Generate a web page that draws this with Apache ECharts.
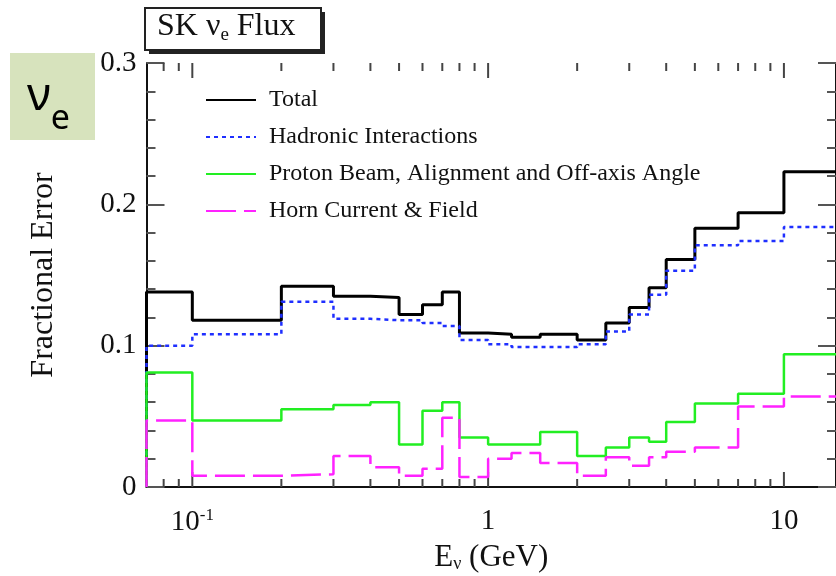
<!DOCTYPE html>
<html>
<head>
<meta charset="utf-8">
<script src="https://cdn.jsdelivr.net/npm/echarts@6/dist/echarts.min.js"></script>
<style>html,body{margin:0;padding:0;background:#fff}#c{width:836px;height:576px}</style>
</head>
<body>
<div id="c"></div>
<script>
// Bin edges in GeV
var binEdges = [0.07, 0.1, 0.2, 0.3, 0.4, 0.5, 0.6, 0.7, 0.8, 1.0, 1.2, 1.5, 2.0, 2.5, 3.0, 3.5, 4.0, 5.0, 7.0, 10, 20];
var totalErr    = [0.138, 0.118, 0.142, 0.135, 0.134, 0.122, 0.129, 0.138, 0.109, 0.108, 0.106, 0.108, 0.104, 0.116, 0.127, 0.141, 0.161, 0.183, 0.194, 0.223];
var hadronicErr = [0.100, 0.108, 0.131, 0.119, 0.118, 0.118, 0.116, 0.114, 0.104, 0.101, 0.099, 0.099, 0.101, 0.110, 0.122, 0.136, 0.153, 0.171, 0.174, 0.184];
var protonErr   = [0.081, 0.047, 0.055, 0.058, 0.060, 0.030, 0.054, 0.060, 0.035, 0.030, 0.030, 0.039, 0.022, 0.028, 0.035, 0.032, 0.046, 0.059, 0.066, 0.094];
var hornErr     = [0.047, 0.008, 0.009, 0.022, 0.014, 0.008, 0.013, 0.049, 0.007, 0.020, 0.024, 0.017, 0.008, 0.021, 0.015, 0.021, 0.025, 0.028, 0.057, 0.064];
var seriesNames = ['Total', 'Hadronic Interactions', 'Proton Beam, Alignment and Off-axis Angle', 'Horn Current & Field'];
// x tick values: [value, major?]
var xTicks = [[0.08,0],[0.09,0],[0.1,1],[0.2,0],[0.3,0],[0.4,0],[0.5,0],[0.6,0],[0.7,0],[0.8,0],[0.9,0],[1,1],
              [2,0],[3,0],[4,0],[5,0],[6,0],[7,0],[8,0],[9,0],[10,1]];
var yTickLabels = {0: '0', 0.1: '0.1', 0.2: '0.2', 0.3: '0.3'};

function stepData(vals) {
  var pts = [[binEdges[0], 0]];
  for (var i = 0; i < vals.length; i++) pts.push([binEdges[i], vals[i]]);
  pts.push([binEdges[vals.length], vals[vals.length - 1]]);
  return pts;
}

var serif = '"Liberation Serif", "Times New Roman", serif';
var chart = echarts.init(document.getElementById('c'));
var axisLineStyle = {color: '#111', width: 2};

chart.setOption({
  animation: false,
  backgroundColor: '#fff',
  grid: {left: 146.5, top: 63, right: 0, bottom: 89, containLabel: false, outerBoundsMode: 'none'},
  xAxis: [{
    type: 'log', logBase: 10, min: 0.07, max: 15,
    axisLine: {show: true, lineStyle: axisLineStyle},
    axisTick: {show: false},
    splitLine: {show: false},
    minorTick: {show: false},
    axisLabel: {
      show: true, showMinLabel: false, showMaxLabel: false, margin: 20,
      fontFamily: serif, fontSize: 29, color: '#111',
      formatter: function (v) {
        if (Math.abs(v - 0.1) < 1e-6) return '{a|10}{b|-1}';
        if (Math.abs(v - 1) < 1e-6) return '{a|1}';
        if (Math.abs(v - 10) < 1e-6) return '{a|10}';
        return '';
      },
      rich: {
        a: {fontFamily: serif, fontSize: 29, color: '#111'},
        b: {fontFamily: serif, fontSize: 17, color: '#111', padding: [0, 0, 14, 0]}
      }
    },
    name: '{n|E}{s|ν}{n| (GeV)}',
    nameLocation: 'middle', nameGap: 52,
    nameTextStyle: {
      rich: {
        n: {fontFamily: serif, fontSize: 31, color: '#111'},
        s: {fontFamily: serif, fontSize: 18, color: '#111', padding: [14, 0, 0, 0]}
      }
    }
  }, {
    type: 'log', logBase: 10, min: 0.07, max: 15, position: 'top',
    axisLine: {show: true, lineStyle: axisLineStyle},
    axisTick: {show: false}, axisLabel: {show: false}, splitLine: {show: false}
  }],
  yAxis: [{
    type: 'value', min: 0, max: 0.3, interval: 0.1,
    axisLine: {show: true, lineStyle: axisLineStyle},
    axisTick: {show: true, inside: true, length: 18, lineStyle: {color: '#555', width: 2}},
    minorTick: {show: true, splitNumber: 5, length: 9, lineStyle: {color: '#555', width: 2}},
    splitLine: {show: false}, minorSplitLine: {show: false},
    axisLabel: {
      margin: 10, fontFamily: serif, fontSize: 29, color: '#111',
      formatter: function (v) { var k = Math.round(v * 10) / 10; return yTickLabels[k] !== undefined ? yTickLabels[k] : ''; }
    },
    name: 'Fractional Error', nameLocation: 'middle', nameGap: 87, nameRotate: 90,
    nameTextStyle: {fontFamily: serif, fontSize: 32, color: '#111'}
  }, {
    type: 'value', min: 0, max: 0.3, interval: 0.1, position: 'right',
    axisLine: {show: true, lineStyle: axisLineStyle},
    axisTick: {show: true, inside: true, length: 18, lineStyle: {color: '#555', width: 2}},
    minorTick: {show: true, splitNumber: 5, length: 9, lineStyle: {color: '#555', width: 2}},
    splitLine: {show: false}, axisLabel: {show: false}
  }],
  legend: {
    orient: 'vertical', left: 205, top: 88, padding: 0,
    itemWidth: 50, itemHeight: 14, itemGap: 13,
    data: seriesNames,
    itemStyle: {opacity: 0},
    textStyle: {fontFamily: serif, fontSize: 24, color: '#111', lineHeight: 24, padding: [0, 0, 0, 8]}
  },
  series: [
    {name: seriesNames[0], type: 'line', step: 'end', symbol: 'none', data: stepData(totalErr),
     lineStyle: {color: '#000', width: 3}, itemStyle: {color: '#000'}},
    {name: seriesNames[1], type: 'line', step: 'end', symbol: 'none', data: stepData(hadronicErr),
     lineStyle: {color: '#1f2fff', width: 2.5, type: [4, 4]}, itemStyle: {color: '#1f2fff'}},
    {name: seriesNames[2], type: 'line', step: 'end', symbol: 'none', data: stepData(protonErr),
     lineStyle: {color: '#22ee22', width: 2.5}, itemStyle: {color: '#22ee22'}},
    {name: seriesNames[3], type: 'line', step: 'end', symbol: 'none', data: stepData(hornErr),
     lineStyle: {color: '#ff22ff', width: 2.5, type: [30, 8]}, itemStyle: {color: '#ff22ff'}},
    {name: 'xticks', type: 'custom', data: xTicks, clip: false, silent: true,
     renderItem: function (params, api) {
       var v = api.value(0), major = api.value(1);
       var b = api.coord([v, 0]), t = api.coord([v, 0.3]);
       var len = major ? 15 : 8;
       var st = {stroke: '#444', lineWidth: 2};
       return {type: 'group', children: [
         {type: 'line', shape: {x1: b[0], y1: b[1], x2: b[0], y2: b[1] - len}, style: st},
         {type: 'line', shape: {x1: t[0], y1: t[1], x2: t[0], y2: t[1] + len}, style: st}
       ]};
     }}
  ],
  graphic: [
    {type: 'rect', shape: {x: 149, y: 12, width: 176, height: 42}, style: {fill: '#222'}},
    {type: 'rect', shape: {x: 145, y: 8, width: 176, height: 42}, style: {fill: '#fff', stroke: '#222', lineWidth: 2}},
    {type: 'text', left: 157, top: 11, style: {
      text: '{n|SK ν}{s|e}{n| Flux}',
      rich: {
        n: {fontFamily: serif, fontSize: 32, fill: '#111'},
        s: {fontFamily: serif, fontSize: 19, fill: '#111', padding: [16, 0, 0, 0]}
      }}},
    {type: 'rect', shape: {x: 10, y: 53, width: 85, height: 87}, style: {fill: '#d7e3bd'}},
    {type: 'text', left: 27, top: 74, style: {
      text: '{v|ν}{e|e}',
      rich: {
        v: {fontFamily: '"Noto Sans", sans-serif', fontSize: 46, fill: '#000'},
        e: {fontFamily: '"Noto Sans", sans-serif', fontSize: 34, fill: '#000', padding: [44, 0, 0, 0]}
      }}}
  ]
});
</script>
</body>
</html>
